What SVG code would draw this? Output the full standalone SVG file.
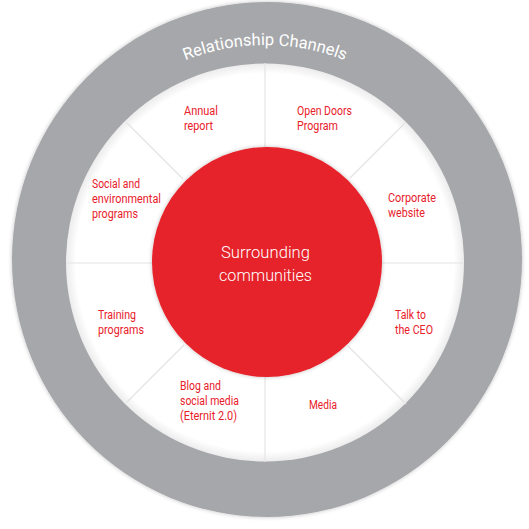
<svg xmlns="http://www.w3.org/2000/svg" width="529" height="529" viewBox="0 0 529 529">
  <style>
    .lbl { font-family: Roboto, "Liberation Sans", sans-serif; font-size: 12.5px; fill: #e8202a; }
    .ctr { font-family: Roboto, "Liberation Sans", sans-serif; font-size: 16.5px; font-weight: 300; fill: #ffffff; }
    .ttl { font-family: Roboto, "Liberation Sans", sans-serif; font-size: 16.5px; font-weight: 400; fill: #ffffff; }
    .div { stroke: #e4e4e4; stroke-width: 1.2; }
  </style>
  <defs>
    <filter id="sh" x="-10%" y="-10%" width="120%" height="120%">
      <feGaussianBlur in="SourceAlpha" stdDeviation="2"/>
      <feOffset dx="0" dy="0" result="b"/>
      <feComponentTransfer><feFuncA type="linear" slope="0.25"/></feComponentTransfer>
      <feMerge><feMergeNode/><feMergeNode in="SourceGraphic"/></feMerge>
    </filter>
    <radialGradient id="inset" cx="265" cy="262.5" r="199" gradientUnits="userSpaceOnUse">
      <stop offset="0.95" stop-color="#ffffff"/>
      <stop offset="1" stop-color="#ececec"/>
    </radialGradient>
    <path id="arc" d="M 48,262 A 217 217 0 0 1 482,262"/>
  </defs>

  <g id="ring">
    <ellipse cx="267" cy="259.5" rx="255" ry="257.5" fill="#a6a7aa" filter="url(#sh)"/>
    <text class="ttl"><textPath href="#arc" startOffset="50%" text-anchor="middle">Relationship Channels</textPath></text>
  </g>

  <g id="disk">
    <circle cx="265" cy="262.5" r="199" fill="url(#inset)"/>
  </g>

  <g id="dividers">
    <line class="div" x1="265" y1="63" x2="265" y2="147"/>
    <line class="div" x1="265" y1="377" x2="265" y2="462"/>
    <line class="div" x1="66" y1="263" x2="152" y2="263"/>
    <line class="div" x1="382" y1="263" x2="464" y2="263"/>
    <line class="div" x1="405" y1="123" x2="350" y2="178"/>
    <line class="div" x1="126" y1="122" x2="183" y2="179"/>
    <line class="div" x1="126" y1="403" x2="184" y2="345"/>
    <line class="div" x1="406" y1="404" x2="348" y2="346"/>
  </g>

  <g id="center">
    <circle cx="267" cy="262" r="115" fill="#e62129" filter="url(#sh)"/>
    <text class="ctr" x="221" y="258" textLength="89" lengthAdjust="spacingAndGlyphs">Surrounding</text>
    <text class="ctr" x="219" y="281" textLength="93" lengthAdjust="spacingAndGlyphs">communities</text>
  </g>

  <g id="annual-report">
    <text class="lbl" x="184" y="115" textLength="34" lengthAdjust="spacingAndGlyphs">Annual</text>
    <text class="lbl" x="184" y="130" textLength="29" lengthAdjust="spacingAndGlyphs">report</text>
  </g>
  <g id="open-doors">
    <text class="lbl" x="297" y="115" textLength="55" lengthAdjust="spacingAndGlyphs">Open Doors</text>
    <text class="lbl" x="297" y="130" textLength="41" lengthAdjust="spacingAndGlyphs">Program</text>
  </g>
  <g id="corporate-website">
    <text class="lbl" x="388" y="202" textLength="48" lengthAdjust="spacingAndGlyphs">Corporate</text>
    <text class="lbl" x="388" y="217" textLength="37" lengthAdjust="spacingAndGlyphs">website</text>
  </g>
  <g id="talk-ceo">
    <text class="lbl" x="395" y="319" textLength="31" lengthAdjust="spacingAndGlyphs">Talk to</text>
    <text class="lbl" x="395" y="334" textLength="38" lengthAdjust="spacingAndGlyphs">the CEO</text>
  </g>
  <g id="media">
    <text class="lbl" x="309" y="409" textLength="28" lengthAdjust="spacingAndGlyphs">Media</text>
  </g>
  <g id="blog">
    <text class="lbl" x="180" y="390" textLength="41" lengthAdjust="spacingAndGlyphs">Blog and</text>
    <text class="lbl" x="180" y="405" textLength="59" lengthAdjust="spacingAndGlyphs">social media</text>
    <text class="lbl" x="180" y="420" textLength="57" lengthAdjust="spacingAndGlyphs">(Eternit 2.0)</text>
  </g>
  <g id="training">
    <text class="lbl" x="98" y="319" textLength="38" lengthAdjust="spacingAndGlyphs">Training</text>
    <text class="lbl" x="98" y="334" textLength="46" lengthAdjust="spacingAndGlyphs">programs</text>
  </g>
  <g id="social-env">
    <text class="lbl" x="92" y="188" textLength="48" lengthAdjust="spacingAndGlyphs">Social and</text>
    <text class="lbl" x="92" y="203" textLength="69" lengthAdjust="spacingAndGlyphs">environmental</text>
    <text class="lbl" x="92" y="218" textLength="46" lengthAdjust="spacingAndGlyphs">programs</text>
  </g>
</svg>
